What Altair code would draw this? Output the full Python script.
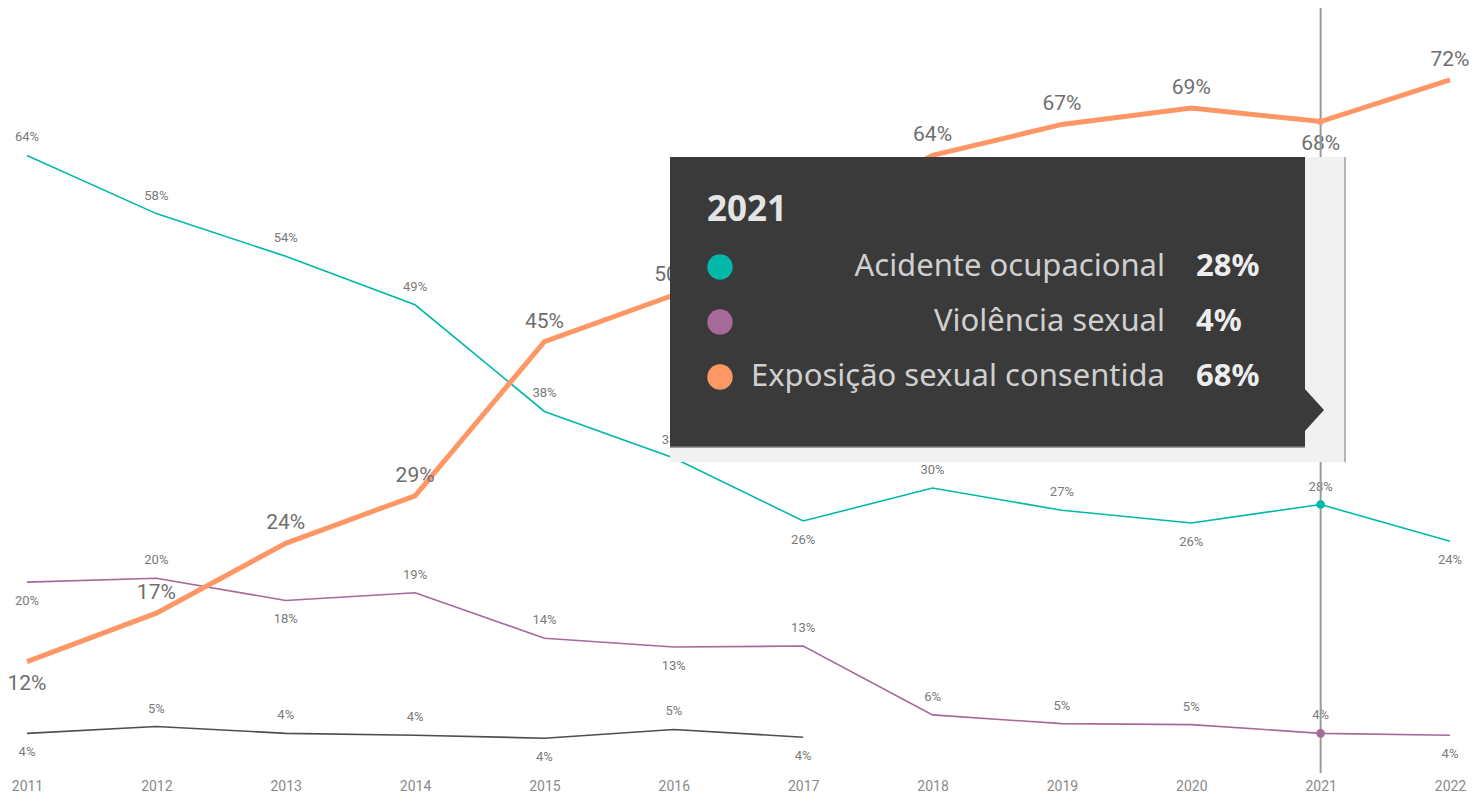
import altair as alt
import pandas as pd

# ---------------- data ----------------
years = list(range(2011, 2023))
series_names = ["Acidente ocupacional", "Violência sexual", "Exposição sexual consentida", "Outros"]
series_colors = ["#01B8AA", "#A66999", "#FE9666", "#4a4f52"]

acidente = [64.0, 58.0, 53.6, 48.6, 37.6, 32.8, 26.3, 29.7, 27.4, 26.1, 28.0, 24.2]
violencia = [20.0, 20.4, 18.1, 18.9, 14.2, 13.3, 13.4, 6.3, 5.4, 5.3, 4.4, 4.2]
exposicao = [11.8, 16.8, 24.0, 28.9, 44.8, 49.6, 57.0, 64.0, 67.2, 68.9, 67.5, 71.8]
outros_years = list(range(2011, 2018))
outros = [4.4, 5.1, 4.4, 4.2, 3.9, 4.8, 4.0]

acidente_side = ["above"] * 6 + ["below", "above", "above", "below", "above", "below"]
violencia_side = ["below", "above", "below", "above", "above", "below", "above",
                  "above", "above", "above", "above", "below"]
exposicao_side = ["below", "above", "above", "above", "above", "above", "above",
                  "above", "above", "above", "below", "above"]
outros_side = ["below", "above", "above", "above", "below", "above", "below"]

highlight_year = 2021
tooltip_series = series_names[:3]

# ---------------- table ----------------
rows = []
for name, yrs, vals, sides in [
    (series_names[0], years, acidente, acidente_side),
    (series_names[1], years, violencia, violencia_side),
    (series_names[2], years, exposicao, exposicao_side),
    (series_names[3], outros_years, outros, outros_side),
]:
    for y, v, s in zip(yrs, vals, sides):
        rows.append({"year": y, "series": name, "value": v, "side": s})
df = pd.DataFrame(rows)

lookup = {(r["series"], r["year"]): r["value"] for r in rows}

FONT = "Roboto"
TFONT = "Noto Sans"

x_enc = alt.X(
    "year:Q",
    scale=alt.Scale(domain=[years[0], years[-1]], nice=False, zero=False),
    axis=alt.Axis(values=years, format="d", labelFontSize=14, labelColor="#8a8a8a",
                  labelFont=FONT, domain=False, ticks=False, tickSize=0, grid=False,
                  title=None, labelPadding=10, labelBaseline="middle",
                  labelFlush=False, labelOverlap=False),
)
y_enc = alt.Y("value:Q", scale=alt.Scale(domain=[0, 79], nice=False, zero=True), axis=None)
c_enc = alt.Color("series:N", scale=alt.Scale(domain=series_names, range=series_colors), legend=None)

base = alt.Chart(df).transform_calculate(
    label="format(round(datum.value), 'd') + '%'"
)

thin_lines = base.transform_filter(
    alt.datum.series != series_names[2]
).mark_line(strokeWidth=1.6).encode(x=x_enc, y=y_enc, color=c_enc, detail="series:N")

thick_line = base.transform_filter(
    alt.datum.series == series_names[2]
).mark_line(strokeWidth=5).encode(x=x_enc, y=y_enc, color=c_enc)

small_above = base.transform_filter(
    (alt.datum.series != series_names[2]) & (alt.datum.side == "above")
).mark_text(dy=-18, fontSize=13, font=FONT, color="#7a7a7a").encode(x=x_enc, y=y_enc, text="label:N")
small_below = base.transform_filter(
    (alt.datum.series != series_names[2]) & (alt.datum.side == "below")
).mark_text(dy=19, fontSize=13, font=FONT, color="#7a7a7a").encode(x=x_enc, y=y_enc, text="label:N")
big_above = base.transform_filter(
    (alt.datum.series == series_names[2]) & (alt.datum.side == "above")
).mark_text(dy=-20, fontSize=21, font=FONT, color="#6e6e6e").encode(x=x_enc, y=y_enc, text="label:N")
big_below = base.transform_filter(
    (alt.datum.series == series_names[2]) & (alt.datum.side == "below")
).mark_text(dy=22, fontSize=21, font=FONT, color="#6e6e6e").encode(x=x_enc, y=y_enc, text="label:N")

rule = alt.Chart(pd.DataFrame({"year": [highlight_year]})).mark_rule(
    color="#9a9a9a", strokeWidth=2
).encode(x="year:Q", y=alt.value(-7), y2=alt.value(763))

hl_dots = base.transform_filter(
    (alt.datum.year == highlight_year) & (alt.datum.series != series_names[2])
).mark_circle(size=75, opacity=1).encode(x=x_enc, y=y_enc, color=c_enc)
hl_dot_orange = base.transform_filter(
    (alt.datum.year == highlight_year) & (alt.datum.series == series_names[2])
).mark_circle(size=45, opacity=1).encode(x=x_enc, y=y_enc, color=c_enc)

# ---------------- tooltip box ----------------
one = pd.DataFrame({"k": [0]})
shadow = alt.Chart(one).mark_rect(color="#f1f1f1").encode(
    x=alt.value(643), x2=alt.value(1318), y=alt.value(147), y2=alt.value(452))
shadow_edge = alt.Chart(one).mark_rule(color="#b4b4b4", strokeWidth=2).encode(
    x=alt.value(1318), y=alt.value(147), y2=alt.value(452))
box = alt.Chart(one).mark_rect(color="#3a3a3a").encode(
    x=alt.value(643), x2=alt.value(1278), y=alt.value(147), y2=alt.value(437))
box_edge = alt.Chart(one).mark_rule(color="#7d7d7d", strokeWidth=1.5).encode(
    x=alt.value(643), x2=alt.value(1278), y=alt.value(437))
arrow = alt.Chart(one).mark_point(
    shape="M0,-1.1L1,0L0,1.1Z", filled=True, color="#3a3a3a", opacity=1, size=1600, strokeWidth=0
).encode(x=alt.value(1277), y=alt.value(400))
title = alt.Chart(pd.DataFrame({"t": [str(highlight_year)]})).mark_text(
    align="left", baseline="middle", fontSize=35, fontWeight="bold", font=TFONT, color="#e4e4e4"
).encode(x=alt.value(680), y=alt.value(200), text="t:N")

tip_layers = [shadow, shadow_edge, box, box_edge, arrow, title]
for i, name in enumerate(tooltip_series):
    yy = 257 + 55 * i
    val = lookup[(name, highlight_year)]
    tdf = pd.DataFrame({"series": [name], "txt": [f"{round(val)}%"]})
    dot = alt.Chart(tdf).mark_circle(size=650, opacity=1).encode(
        x=alt.value(693), y=alt.value(yy), color=c_enc)
    lab = alt.Chart(tdf).mark_text(
        align="right", baseline="middle", fontSize=31, font=TFONT, color="#cfcfcf"
    ).encode(x=alt.value(1138), y=alt.value(yy), text="series:N")
    vtx = alt.Chart(tdf).mark_text(
        align="left", baseline="middle", fontSize=31, fontWeight="bold", font=TFONT, color="#ededed"
    ).encode(x=alt.value(1169), y=alt.value(yy), text="txt:N")
    tip_layers += [dot, lab, vtx]

chart = alt.layer(
    thin_lines, thick_line, small_above, small_below, big_above, big_below,
    rule, hl_dots, hl_dot_orange, *tip_layers
).properties(
    width=1423, height=766,
    autosize=alt.AutoSizeParams(type="none"),
    padding={"left": 19, "top": 2, "right": 25, "bottom": 18},
).configure(background="white", view=alt.ViewConfig(stroke=None))

chart.save("out.html", embed_options={"renderer": "svg", "actions": False})
